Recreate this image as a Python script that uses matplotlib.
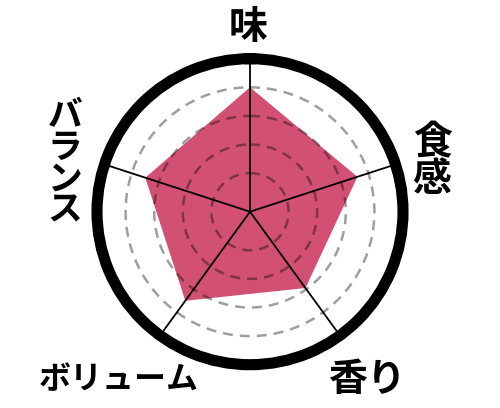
import numpy as np
import matplotlib.pyplot as plt

plt.rcParams['font.family'] = ['Noto Sans CJK JP', 'DejaVu Sans']

# データ
labels = ['味', '食感', '香り', 'ボリューム', 'バランス']
values = [4.0, 3.6, 2.95, 3.5, 3.5]
rings = [1, 2, 3, 4]
rmax = 5

fig = plt.figure(figsize=(5, 4.08), dpi=100)
W, H = 500, 408
cx, cy, R = 250, 211.7, 153  # 中心と外枠の半径 (px)
ax = fig.add_axes([(cx - R) / W, 1 - (cy + R) / H, 2 * R / W, 2 * R / H], polar=True)
ax.set_theta_offset(np.pi / 2)
ax.set_theta_direction(-1)
ax.set_ylim(-0.35, rmax)

n = len(labels)
theta = np.arange(n) * 2 * np.pi / n
t_closed = np.append(theta, theta[0])
v_closed = np.append(values, values[0])

ax.fill(t_closed, v_closed, color='#D25073', lw=0, zorder=2)

tt = np.linspace(0, 2 * np.pi, 400)
for r in rings:
    ax.plot(tt, np.full_like(tt, r), color='black', alpha=0.38, lw=1.8,
            dashes=(4, 2.8), zorder=3)

for t in theta:
    ax.plot([t, t], [-0.35, rmax], color='black', lw=1.3, zorder=4)

ax.grid(False)
ax.set_xticks([])
ax.set_yticks([])
ax.spines['polar'].set_linewidth(8)
ax.spines['polar'].set_color('black')

# ラベル (px 位置)
def px(x, y):
    return x / W, 1 - y / H

fig.text(*px(248, 27), labels[0], ha='center', va='center', fontsize=28, fontweight='bold')
fig.text(*px(432, 161), '\n'.join(labels[1]), ha='center', va='center', fontsize=28,
         fontweight='bold', linespacing=0.92)
fig.text(*px(367, 379), labels[2], ha='center', va='center', fontsize=28, fontweight='bold')
fig.text(*px(119, 380), labels[3], ha='center', va='center', fontsize=23, fontweight='bold')
fig.text(*px(65, 163), '\n'.join(labels[4]), ha='center', va='center', fontsize=25,
         fontweight='bold', linespacing=0.88)

fig.savefig('out.png', dpi=100)
